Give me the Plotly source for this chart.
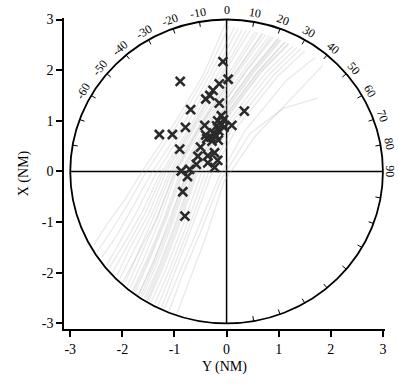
import math
import plotly.graph_objects as go

# ---- data -------------------------------------------------------------
# Track positions (Y = east offset, X = north offset), nautical miles
track_y = [
    [-2.55, -2.30, -1.95, -1.62, -1.00, -0.45, -0.02],
    [-2.40, -2.10, -1.80, -1.45, -0.85, -0.30, 0.15],
    [-2.25, -1.95, -1.62, -1.30, -0.72, -0.18, 0.30],
    [-2.10, -1.85, -1.50, -1.18, -0.62, -0.05, 0.45],
    [-1.95, -1.70, -1.40, -1.05, -0.50, 0.10, 0.60],
    [-1.85, -1.58, -1.28, -0.95, -0.40, 0.25, 0.75],
    [-1.75, -1.48, -1.18, -0.82, -0.30, 0.38, 0.90],
    [-1.62, -1.35, -1.05, -0.70, -0.18, 0.52, 1.05],
    [-1.50, -1.22, -0.92, -0.55, -0.05, 0.68, 1.20],
    [-1.38, -1.10, -0.80, -0.42, 0.08, 0.82, 1.35],
    [-1.25, -1.00, -0.70, -0.30, 0.22, 0.98, 1.50],
    [-1.20, -0.92, -0.60, -0.15, 0.35, 1.15, 1.70],
    [-2.00, -1.72, -1.35, -0.98, -0.48, 0.18, 0.70],
    [-1.70, -1.40, -1.12, -0.75, -0.25, 0.45, 0.98],
    [-1.55, -1.28, -0.98, -0.62, -0.12, 0.60, 1.12],
    [-2.30, -2.02, -1.70, -1.36, -0.78, -0.25, 0.22],
    [-0.95, -0.70, -0.40, -0.05, 0.55, 1.30, 1.85],
    [-1.10, -0.85, -0.52, -0.10, 0.45, 1.10, 1.75],
    [-2.48, -2.20, -1.88, -1.55, -0.95, -0.38, 0.05],
    [-2.18, -1.90, -1.56, -1.24, -0.66, -0.10, 0.38],
    [-1.90, -1.64, -1.33, -1.00, -0.45, 0.18, 0.68],
    [-1.80, -1.52, -1.22, -0.88, -0.35, 0.32, 0.82],
    [-1.68, -1.42, -1.10, -0.76, -0.24, 0.46, 1.00],
    [-1.58, -1.30, -1.00, -0.64, -0.12, 0.60, 1.12],
    [-1.45, -1.16, -0.86, -0.48, 0.02, 0.75, 1.28],
    [-1.32, -1.05, -0.75, -0.36, 0.15, 0.90, 1.42],
    [-1.78, -1.50, -1.20, -0.85, -0.32, 0.36, 0.86],
    [-1.65, -1.38, -1.08, -0.72, -0.20, 0.50, 1.02],
    [-2.05, -1.78, -1.45, -1.10, -0.58, 0.05, 0.55],
    [-1.52, -1.25, -0.95, -0.58, -0.08, 0.65, 1.18],
]
track_x = [
    [-1.45, -1.05, -0.55, 0.00, 0.95, 1.90, 2.92],
    [-1.70, -1.25, -0.70, -0.05, 0.90, 1.95, 2.85],
    [-1.90, -1.40, -0.80, -0.10, 0.85, 1.90, 2.80],
    [-2.05, -1.50, -0.85, -0.05, 0.90, 1.95, 2.78],
    [-2.20, -1.60, -0.90, 0.00, 0.95, 1.95, 2.75],
    [-2.30, -1.70, -0.95, 0.02, 1.00, 2.00, 2.70],
    [-2.38, -1.75, -1.00, 0.00, 0.98, 1.98, 2.65],
    [-2.48, -1.85, -1.05, -0.02, 0.95, 1.95, 2.60],
    [-2.55, -1.90, -1.10, 0.00, 0.98, 1.98, 2.52],
    [-2.62, -1.95, -1.15, -0.05, 0.95, 1.92, 2.45],
    [-2.70, -2.00, -1.20, -0.08, 0.90, 1.88, 2.38],
    [-2.72, -2.05, -1.25, -0.12, 0.80, 1.80, 2.25],
    [-2.20, -1.65, -0.95, 0.00, 0.95, 1.95, 2.72],
    [-2.45, -1.80, -1.00, 0.00, 0.95, 1.95, 2.62],
    [-2.52, -1.88, -1.08, -0.02, 0.96, 1.96, 2.56],
    [-1.85, -1.35, -0.75, -0.05, 0.88, 1.92, 2.82],
    [-2.80, -2.10, -1.30, -0.20, 0.70, 1.50, 2.10],
    [-2.75, -2.05, -1.25, -0.15, 0.75, 1.25, 1.45],
    [-1.58, -1.15, -0.62, -0.02, 0.92, 1.92, 2.88],
    [-1.98, -1.45, -0.82, -0.08, 0.88, 1.92, 2.79],
    [-2.25, -1.65, -0.92, 0.01, 0.98, 1.98, 2.72],
    [-2.34, -1.72, -0.98, 0.01, 0.99, 1.99, 2.68],
    [-2.43, -1.80, -1.03, -0.01, 0.96, 1.96, 2.62],
    [-2.50, -1.87, -1.07, -0.01, 0.97, 1.97, 2.55],
    [-2.58, -1.92, -1.12, -0.02, 0.96, 1.95, 2.48],
    [-2.66, -1.98, -1.18, -0.06, 0.92, 1.90, 2.42],
    [-2.36, -1.74, -0.99, 0.00, 0.97, 1.97, 2.66],
    [-2.46, -1.82, -1.04, 0.00, 0.96, 1.96, 2.60],
    [-2.12, -1.55, -0.88, -0.02, 0.92, 1.95, 2.76],
    [-2.54, -1.89, -1.09, 0.00, 0.97, 1.97, 2.53],
]

# Event positions (crosses)
cross_y = [-0.07, 0.03, -0.14, -0.89, -0.26, -0.32, -0.40, -0.14, -0.69, 0.34,
           -0.42, 0.10, -0.79, -1.29, -1.04, -0.90, -0.50, -0.23, -0.55, -0.36,
           -0.36, -0.17, -0.58, -0.23, -0.71, -0.87, -0.75, -0.84, -0.80,
           -0.10, -0.06, -0.17, -0.09, -0.19, -0.05,
           -0.15, -0.25, -0.20, -0.30, -0.38, -0.16, -0.28, -0.40]
cross_x = [2.17, 1.82, 1.73, 1.78, 1.60, 1.50, 1.43, 1.35, 1.22, 1.19,
           0.91, 0.91, 0.87, 0.73, 0.73, 0.44, 0.48, 0.37, 0.30, 0.31,
           0.17, 0.22, 0.14, 0.08, 0.04, 0.01, -0.10, -0.40, -0.88,
           1.10, 1.02, 1.00, 0.93, 0.90, 0.87,
           0.80, 0.76, 0.70, 0.68, 0.65, 0.62, 0.60, 0.72]

# Range ring and bearing scale
ring_radius = 3.0
bearing_labels = [-60, -50, -40, -30, -20, -10, 0, 10, 20, 30, 40, 50, 60, 70, 80, 90]
bearing_ticks = [-80, -70, -60, -50, -40, -30, -20, -10, 0, 10, 20, 30, 40, 50, 60,
                 70, 80, 90, 100, 110, 120, 130, 140, 150, 160, 170]
axis_ticks = [-3, -2, -1, 0, 1, 2, 3]

X_RANGE = [-3.12, 3.04]
Y_RANGE = [-3.11, 3.03]
FONT = "Liberation Serif, Times New Roman, serif"

fig = go.Figure()

# Cross-hair through the origin
fig.add_trace(go.Scatter(x=[-ring_radius, ring_radius], y=[0, 0], mode="lines",
                         line=dict(color="black", width=1.5), hoverinfo="skip"))
fig.add_trace(go.Scatter(x=[0, 0], y=[-ring_radius, ring_radius], mode="lines",
                         line=dict(color="black", width=1.5), hoverinfo="skip"))

# Tracks
for ty, tx in zip(track_y, track_x):
    fig.add_trace(go.Scatter(x=ty, y=tx, mode="lines",
                             line=dict(color="rgba(175,175,175,0.28)", width=1.3),
                             hoverinfo="skip"))

# Range ring
fig.add_shape(type="circle", xref="x", yref="y",
              x0=-ring_radius, y0=-ring_radius, x1=ring_radius, y1=ring_radius,
              line=dict(color="black", width=1.8))

# Short inward ticks on the ring
tick_xs, tick_ys = [], []
for b in bearing_ticks:
    s, c = math.sin(math.radians(b)), math.cos(math.radians(b))
    tick_xs += [ring_radius * s, (ring_radius - 0.1) * s, None]
    tick_ys += [ring_radius * c, (ring_radius - 0.1) * c, None]
fig.add_trace(go.Scatter(x=tick_xs, y=tick_ys, mode="lines",
                         line=dict(color="black", width=1), hoverinfo="skip"))

# Events
fig.add_trace(go.Scatter(x=cross_y, y=cross_x, mode="markers",
                         marker=dict(symbol="x-thin", size=9,
                                     line=dict(color="#2a2a2a", width=2.6)),
                         hoverinfo="skip"))

# Bearing labels around the ring (paper coords so those past the axes still show)
for b in bearing_labels:
    r = ring_radius + (0.12 if b >= 90 else 0.18)
    lx = r * math.sin(math.radians(b))
    ly = r * math.cos(math.radians(b))
    fig.add_annotation(x=(lx - X_RANGE[0]) / (X_RANGE[1] - X_RANGE[0]),
                       y=(ly - Y_RANGE[0]) / (Y_RANGE[1] - Y_RANGE[0]),
                       xref="paper", yref="paper", text=str(b), showarrow=False,
                       textangle=b, xanchor="center", yanchor="middle",
                       font=dict(family=FONT, size=12, color="black"))

axis_common = dict(
    showgrid=False, zeroline=False, showline=True, linecolor="black", linewidth=1.5,
    ticks="outside", ticklen=6, tickwidth=1.5, tickcolor="black",
    tickvals=axis_ticks, ticktext=[str(v) for v in axis_ticks],
    tickfont=dict(family=FONT, size=14, color="black"),
)

fig.update_layout(
    width=398, height=389,
    margin=dict(l=64, r=12, t=13, b=60),
    paper_bgcolor="white", plot_bgcolor="white",
    showlegend=False,
    xaxis=dict(range=X_RANGE, title=dict(text="Y (NM)", standoff=6,
               font=dict(family=FONT, size=14, color="black")), **axis_common),
    yaxis=dict(range=Y_RANGE, title=dict(text="X (NM)", standoff=10,
               font=dict(family=FONT, size=14, color="black")), **axis_common),
)

fig.write_html("out.html")
